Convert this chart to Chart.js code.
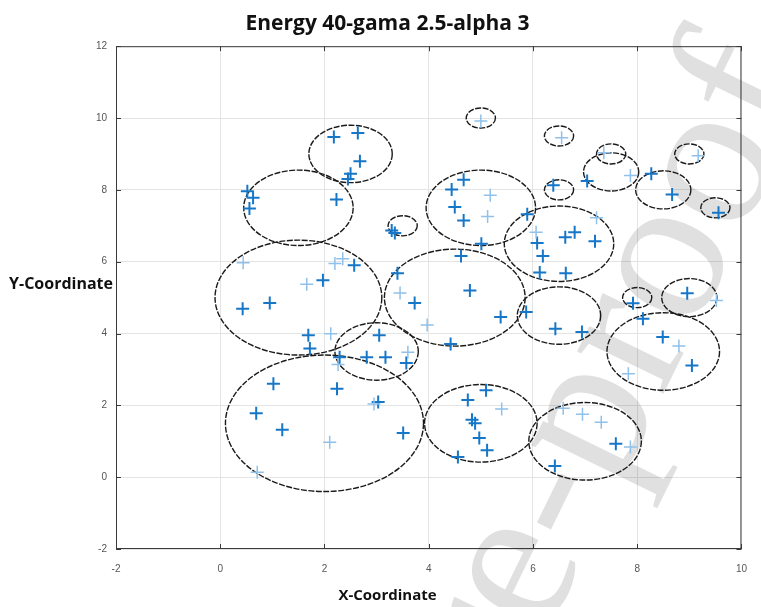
<!DOCTYPE html>
<html>
<head>
<meta charset="utf-8">
<script src="https://cdn.jsdelivr.net/npm/chart.js@4/dist/chart.umd.min.js"></script>
<style>
  html, body { margin: 0; background: #fff; }
</style>
</head>
<body>
<canvas id="chart" width="761" height="607"></canvas>
<script>
const titleText = 'Energy 40-gama 2.5-alpha 3';
const xTitle = 'X-Coordinate';
const yTitle = 'Y-Coordinate';
const watermark = 'Journal Pre-proof';

// sensing ranges (circles): centre and radius
const circleX = [2, 1.5, 1.5, 2.5, 3.5, 3, 4.5, 5, 6.5, 5, 6.5, 7.5, 7.5, 9, 6.5, 8.5, 9.5, 6.5, 8.5, 8, 9, 5, 7];
const circleY = [1.5, 5, 7.5, 9, 7, 3.5, 5, 7.5, 6.5, 10, 9.5, 9, 8.5, 9, 8, 8, 7.5, 4.5, 3.5, 5, 5, 1.5, 1];
const circleR = [1.9, 1.6, 1.05, 0.8, 0.28, 0.8, 1.35, 1.05, 1.05, 0.28, 0.28, 0.28, 0.53, 0.28, 0.28, 0.53, 0.28, 0.8, 1.08, 0.28, 0.53, 1.08, 1.08];

// nodes, dark markers
const darkX = [2.18, 2.64, 2.68, 2.5, 2.45, 0.52, 0.63, 0.56, 2.23, 1.97, 2.57, 0.43, 0.95, 1.69, 1.72, 2.29, 2.81, 3.05, 3.17, 3.57,
  1.02, 2.24, 0.69, 1.19, 3.03, 3.51, 4.67, 4.44, 4.5, 4.67, 5.89, 6.39, 3.29, 3.35, 5.01, 4.62, 6.08, 6.19, 6.13, 3.4,
  4.79, 3.73, 4.42, 5.38, 5.87, 6.43, 6.94, 4.75, 5.1, 4.83, 4.89, 4.97, 5.12, 4.56, 7.59, 6.42, 7.92, 8.11, 8.49, 9.05,
  8.96, 7.04, 8.27, 8.67, 9.56, 6.8, 6.62, 7.19, 6.63];
const darkY = [9.47, 9.58, 8.8, 8.45, 8.3, 7.96, 7.78, 7.48, 7.73, 5.48, 5.9, 4.69, 4.85, 3.95, 3.58, 3.34, 3.34, 3.95, 3.34, 3.18,
  2.6, 2.46, 1.78, 1.32, 2.09, 1.23, 8.28, 8.01, 7.52, 7.15, 7.32, 8.13, 6.87, 6.8, 6.5, 6.16, 6.52, 6.16, 5.7, 5.68,
  5.2, 4.85, 3.71, 4.46, 4.6, 4.13, 4.04, 2.15, 2.42, 1.6, 1.5, 1.09, 0.75, 0.56, 0.93, 0.31, 4.84, 4.41, 3.9, 3.11,
  5.12, 8.25, 8.45, 7.87, 7.36, 6.82, 6.68, 6.57, 5.68];

// nodes, faint markers
const lightX = [0.44, 2.2, 2.35, 1.66, 2.12, 2.26, 2.1, 2.95, 0.71, 3.6, 5.18, 5.13, 6.06, 3.45, 3.97, 5.4, 6.58, 6.95, 7.31, 7.87,
  8.8, 7.83, 9.52, 7.36, 9.17, 7.87, 7.22, 5.0, 6.55];
const lightY = [5.97, 5.95, 6.08, 5.37, 3.99, 3.14, 0.97, 2.04, 0.14, 3.48, 7.85, 7.26, 6.82, 5.13, 4.24, 1.9, 1.92, 1.75, 1.53, 0.84,
  3.65, 2.88, 4.92, 9.03, 8.95, 8.4, 7.22, 9.92, 9.45];

const toPoints = (xs, ys) => xs.map((v, i) => ({x: v, y: ys[i]}));

const overlay = {
  id: 'overlay',
  beforeDatasetsDraw(chart) {
    const {ctx, chartArea: a, scales: {x, y}} = chart;

    // faint diagonal watermark of the source page
    ctx.save();
    ctx.translate(772, 62);
    ctx.rotate(-64 * Math.PI / 180);
    ctx.font = '210px "Liberation Serif", serif';
    ctx.textAlign = 'right';
    ctx.textBaseline = 'alphabetic';
    ctx.fillStyle = 'rgba(0,0,0,0.12)';
    ctx.fillText(watermark, 0, 48);
    ctx.restore();

    // circles in data units (they look like ellipses on the unequal axes)
    ctx.save();
    ctx.beginPath();
    ctx.rect(a.left, a.top, a.width, a.height);
    ctx.clip();
    ctx.strokeStyle = '#1a1a1a';
    ctx.lineWidth = 1.4;
    ctx.setLineDash([6, 1.5]);
    circleX.forEach((cx, i) => {
      const px = x.getPixelForValue(cx);
      const py = y.getPixelForValue(circleY[i]);
      const rx = Math.abs(x.getPixelForValue(cx + circleR[i]) - px);
      const ry = Math.abs(y.getPixelForValue(circleY[i] + circleR[i]) - py);
      ctx.beginPath();
      ctx.ellipse(px, py, rx, ry, 0, 0, Math.PI * 2);
      ctx.stroke();
    });
    ctx.restore();
  },
  afterDraw(chart) {
    const {ctx, chartArea: a, scales: {x, y}} = chart;
    ctx.save();
    // axes box with inward ticks
    ctx.strokeStyle = '#3a3a3a';
    ctx.lineWidth = 1;
    ctx.strokeRect(a.left + 0.5, a.top + 0.5, a.width - 1, a.height - 1);
    ctx.beginPath();
    x.ticks.forEach(t => {
      const px = Math.round(x.getPixelForValue(t.value)) + 0.5;
      ctx.moveTo(px, a.bottom); ctx.lineTo(px, a.bottom - 5);
      ctx.moveTo(px, a.top); ctx.lineTo(px, a.top + 5);
    });
    y.ticks.forEach(t => {
      const py = Math.round(y.getPixelForValue(t.value)) + 0.5;
      ctx.moveTo(a.left, py); ctx.lineTo(a.left + 5, py);
      ctx.moveTo(a.right, py); ctx.lineTo(a.right - 5, py);
    });
    ctx.stroke();

    // horizontal y-axis title
    ctx.font = 'bold 16px "Open Sans"';
    ctx.fillStyle = '#111';
    ctx.textAlign = 'left';
    ctx.textBaseline = 'middle';
    ctx.fillText(yTitle, 9, 284);
    ctx.restore();
  }
};

const tickFont = {family: '"Liberation Sans", Arial, sans-serif', size: 10};

new Chart(document.getElementById('chart'), {
  type: 'scatter',
  data: {
    datasets: [
      {
        label: 'faint nodes',
        data: toPoints(lightX, lightY),
        pointStyle: 'cross',
        pointRadius: 6.5,
        pointBorderWidth: 1.5,
        borderColor: '#8fc1ea'
      },
      {
        label: 'nodes',
        data: toPoints(darkX, darkY),
        pointStyle: 'cross',
        pointRadius: 6.5,
        pointBorderWidth: 2,
        borderColor: '#1677c8'
      }
    ]
  },
  options: {
    responsive: false,
    animation: false,
    layout: {padding: {left: 21, right: 7, top: 0, bottom: 0}},
    plugins: {
      legend: {display: false},
      tooltip: {enabled: false},
      title: {
        display: true,
        text: titleText,
        color: '#111',
        font: {family: '"Open Sans"', size: 21, weight: 'bold'},
        padding: {top: 11, bottom: 10}
      },
      subtitle: {
        display: true,
        position: 'bottom',
        text: xTitle,
        color: '#111',
        font: {family: '"Open Sans"', size: 15, weight: 'bold'},
        padding: {top: 7, bottom: 2}
      }
    },
    scales: {
      x: {
        type: 'linear',
        min: -2,
        max: 10,
        ticks: {stepSize: 2, padding: 14, color: '#555', font: tickFont},
        grid: {color: '#e4e4e4', drawTicks: false},
        border: {display: false},
        afterFit: s => { s.height = 31; }
      },
      y: {
        type: 'linear',
        min: -2,
        max: 12,
        ticks: {stepSize: 2, padding: 9, color: '#555', font: tickFont},
        grid: {color: '#e4e4e4', drawTicks: false},
        border: {display: false},
        afterFit: s => { s.width = 95; }
      }
    }
  },
  plugins: [overlay]
});
</script>
</body>
</html>
